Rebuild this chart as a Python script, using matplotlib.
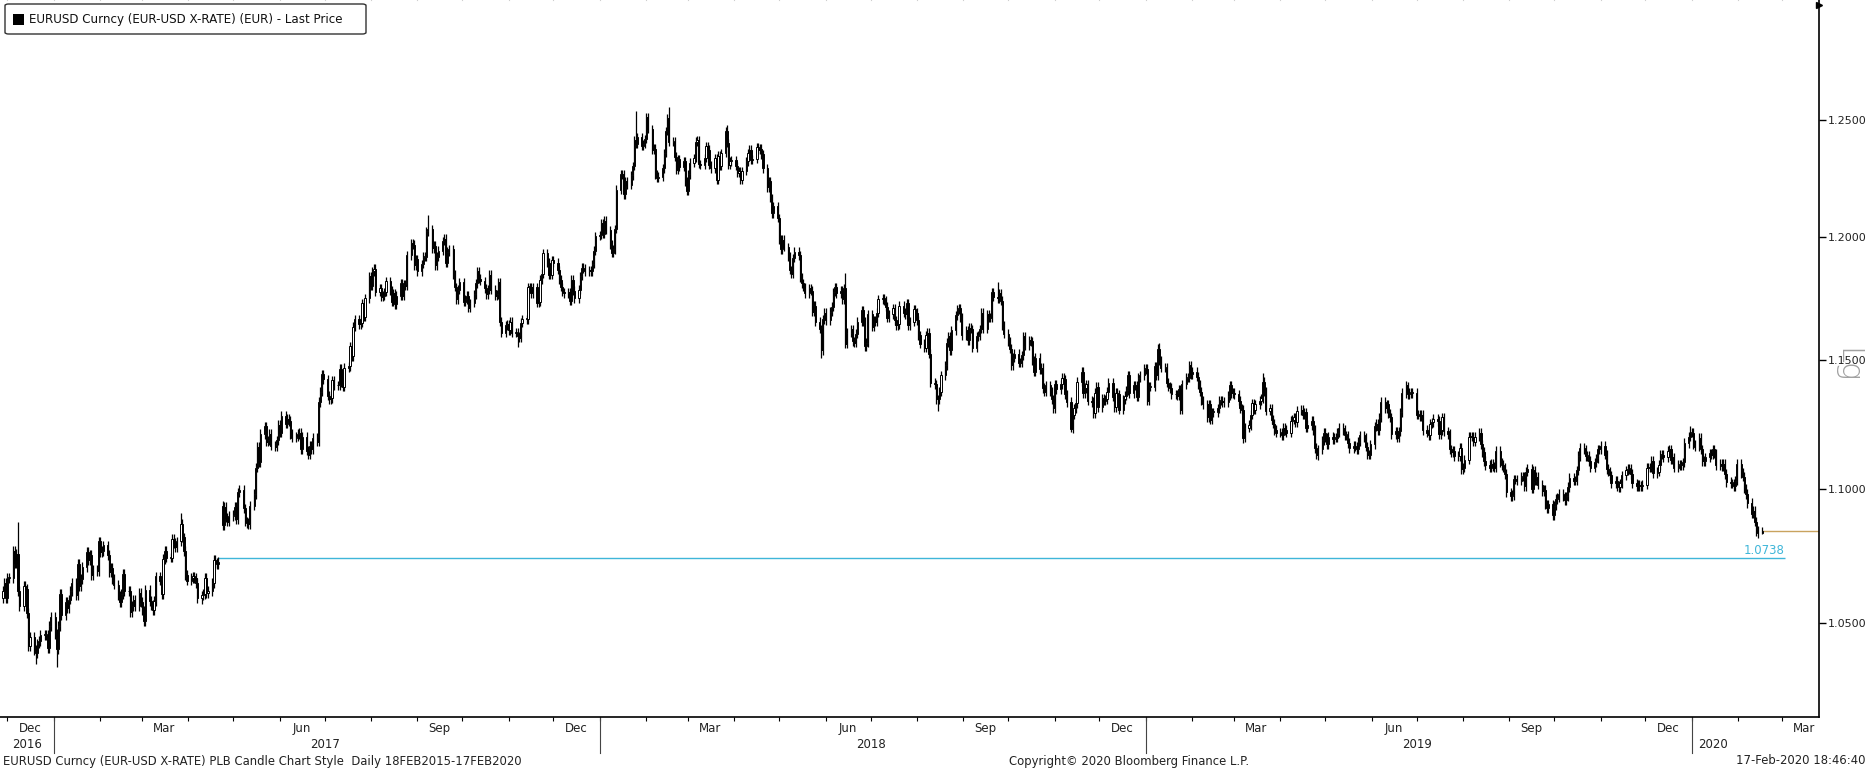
import numpy as np
import pandas as pd
import matplotlib
matplotlib.use("Agg")
import matplotlib.pyplot as plt
import matplotlib.dates as mdates
from matplotlib.patches import FancyBboxPatch
from matplotlib.ticker import FixedLocator, NullLocator

# daily closes (EURUSD, weekdays from 28-Nov-2016)
first_open = 1.0590
close_2016 = [
    1.0615, 1.0645, 1.0590,
    1.0665, 1.0665, 1.0765, 1.0720, 1.0755, 1.0615, 1.0560, 1.0635, 1.0625, 1.0535, 1.0415,
    1.0450, 1.0400, 1.0390, 1.0425, 1.0435, 1.0455, 1.0455, 1.0455, 1.0410, 1.0490, 1.0520,
]
close_2017 = [
    # jan
    1.0460, 1.0405, 1.0490, 1.0605, 1.0530, 1.0575, 1.0555, 1.0585, 1.0615, 1.0645, 1.0600,
    1.0715, 1.0635, 1.0660, 1.0705, 1.0760, 1.0730, 1.0750, 1.0675, 1.0695, 1.0690, 1.0800,
    # feb
    1.0760, 1.0765, 1.0785, 1.0750, 1.0685, 1.0700, 1.0660, 1.0640, 1.0600, 1.0575, 1.0605,
    1.0680, 1.0615, 1.0615, 1.0540, 1.0560, 1.0585, 1.0560, 1.0610, 1.0575,
    # mar
    1.0545, 1.0505, 1.0620, 1.0580, 1.0565, 1.0545, 1.0580, 1.0670, 1.0655, 1.0605, 1.0735,
    1.0765, 1.0740, 1.0740, 1.0810, 1.0795, 1.0780, 1.0800, 1.0865, 1.0815, 1.0765, 1.0675, 1.0655,
    # apr
    1.0665, 1.0670, 1.0665, 1.0645, 1.0590, 1.0600, 1.0605, 1.0665, 1.0610, 1.0615, 1.0645,
    1.0730, 1.0720, 1.0715, 1.0725, 1.0860, 1.0930, 1.0890, 1.0875, 1.0895,
    # may
    1.0900, 1.0930, 1.0885, 1.0985, 1.0995, 1.0925, 1.0875, 1.0870, 1.0865, 1.0935, 1.0980,
    1.1080, 1.1160, 1.1100, 1.1210, 1.1240, 1.1180, 1.1185, 1.1210, 1.1165, 1.1160, 1.1185, 1.1245,
    # jun
    1.1215, 1.1280, 1.1250, 1.1270, 1.1260, 1.1210, 1.1195, 1.1200, 1.1210, 1.1215, 1.1150,
    1.1200, 1.1145, 1.1130, 1.1165, 1.1150, 1.1195, 1.1180, 1.1335, 1.1375, 1.1445, 1.1425,
    # jul
    1.1360, 1.1345, 1.1350, 1.1420, 1.1400, 1.1400, 1.1465, 1.1410, 1.1395, 1.1470, 1.1475,
    1.1555, 1.1515, 1.1635, 1.1665, 1.1645, 1.1650, 1.1730, 1.1675, 1.1750, 1.1840,
    # aug
    1.1800, 1.1860, 1.1870, 1.1775, 1.1790, 1.1755, 1.1760, 1.1775, 1.1820, 1.1780, 1.1735,
    1.1770, 1.1725, 1.1760, 1.1810, 1.1760, 1.1805, 1.1800, 1.1925, 1.1975, 1.1970, 1.1885, 1.1910,
    # sep
    1.1860, 1.1890, 1.1920, 1.1920, 1.2025, 1.2035, 1.1955, 1.1965, 1.1885, 1.1920, 1.1945,
    1.1985, 1.1995, 1.1895, 1.1940, 1.1950, 1.1845, 1.1795, 1.1745, 1.1785, 1.1815,
    # oct
    1.1735, 1.1745, 1.1760, 1.1710, 1.1730, 1.1765, 1.1810, 1.1860, 1.1830, 1.1820, 1.1790,
    1.1765, 1.1785, 1.1845, 1.1785, 1.1760, 1.1765, 1.1815, 1.1655, 1.1610, 1.1640, 1.1645,
    # nov
    1.1620, 1.1655, 1.1610, 1.1610, 1.1595, 1.1590, 1.1650, 1.1665, 1.1665, 1.1795, 1.1795,
    1.1770, 1.1795, 1.1730, 1.1735, 1.1825, 1.1850, 1.1935, 1.1895, 1.1845, 1.1845, 1.1905,
    # dec
    1.1895, 1.1865, 1.1825, 1.1795, 1.1775, 1.1770, 1.1775, 1.1740, 1.1825, 1.1780, 1.1750,
    1.1785, 1.1840, 1.1875, 1.1870, 1.1860, 1.1865, 1.1860, 1.1890, 1.1945, 1.2005,
]
close_2018 = [
    # jan
    1.2010, 1.2060, 1.2015, 1.2070, 1.2030, 1.1970, 1.1935, 1.1950, 1.2035, 1.2200, 1.2265,
    1.2265, 1.2180, 1.2235, 1.2220, 1.2260, 1.2300, 1.2410, 1.2395, 1.2425, 1.2385, 1.2395, 1.2415,
    # feb
    1.2510, 1.2460, 1.2370, 1.2375, 1.2265, 1.2250, 1.2255, 1.2290, 1.2355, 1.2450, 1.2505,
    1.2405, 1.2405, 1.2340, 1.2285, 1.2330, 1.2295, 1.2320, 1.2235, 1.2195,
    # mar
    1.2265, 1.2315, 1.2335, 1.2405, 1.2410, 1.2310, 1.2305, 1.2335, 1.2385, 1.2370, 1.2305,
    1.2290, 1.2335, 1.2240, 1.2345, 1.2300, 1.2355, 1.2450, 1.2400, 1.2305, 1.2320, 1.2325,
    # apr
    1.2300, 1.2270, 1.2280, 1.2240, 1.2280, 1.2320, 1.2355, 1.2370, 1.2325, 1.2330, 1.2380,
    1.2370, 1.2375, 1.2350, 1.2290, 1.2210, 1.2235, 1.2165, 1.2100, 1.2130, 1.2080,
    # may
    1.1990, 1.1950, 1.1990, 1.1960, 1.1920, 1.1865, 1.1850, 1.1915, 1.1940, 1.1925, 1.1835,
    1.1810, 1.1795, 1.1770, 1.1790, 1.1780, 1.1695, 1.1720, 1.1655, 1.1625, 1.1540, 1.1665, 1.1690,
    # jun
    1.1660, 1.1695, 1.1715, 1.1775, 1.1795, 1.1770, 1.1780, 1.1745, 1.1790, 1.1565, 1.1610,
    1.1625, 1.1575, 1.1570, 1.1605, 1.1655, 1.1700, 1.1655, 1.1555, 1.1570, 1.1685,
    # jul
    1.1635, 1.1660, 1.1655, 1.1690, 1.1745, 1.1750, 1.1740, 1.1715, 1.1670, 1.1685, 1.1710,
    1.1660, 1.1640, 1.1645, 1.1720, 1.1690, 1.1685, 1.1730, 1.1640, 1.1655, 1.1705, 1.1690,
    # aug
    1.1660, 1.1600, 1.1565, 1.1550, 1.1600, 1.1610, 1.1525, 1.1410, 1.1405, 1.1345, 1.1345,
    1.1375, 1.1440, 1.1480, 1.1570, 1.1595, 1.1540, 1.1620, 1.1680, 1.1705, 1.1710, 1.1670, 1.1600,
    # sep
    1.1620, 1.1580, 1.1630, 1.1625, 1.1550, 1.1595, 1.1600, 1.1625, 1.1690, 1.1625, 1.1685,
    1.1670, 1.1670, 1.1775, 1.1755, 1.1750, 1.1770, 1.1740, 1.1640, 1.1605,
    # oct
    1.1575, 1.1545, 1.1480, 1.1510, 1.1525, 1.1490, 1.1490, 1.1520, 1.1595, 1.1560, 1.1580,
    1.1575, 1.1500, 1.1455, 1.1510, 1.1465, 1.1470, 1.1390, 1.1375, 1.1400, 1.1375, 1.1345, 1.1310,
    # nov
    1.1405, 1.1385, 1.1405, 1.1430, 1.1425, 1.1365, 1.1335, 1.1230, 1.1285, 1.1310, 1.1330,
    1.1415, 1.1455, 1.1370, 1.1390, 1.1405, 1.1340, 1.1335, 1.1290, 1.1370, 1.1395, 1.1315,
    # dec
    1.1350, 1.1340, 1.1345, 1.1375, 1.1410, 1.1355, 1.1315, 1.1370, 1.1365, 1.1305, 1.1345,
    1.1360, 1.1380, 1.1440, 1.1370, 1.1400, 1.1400, 1.1355, 1.1430, 1.1440, 1.1465,
]
close_2019 = [
    # jan
    1.1465, 1.1340, 1.1395, 1.1395, 1.1475, 1.1440, 1.1545, 1.1500, 1.1470, 1.1470, 1.1410,
    1.1395, 1.1390, 1.1365, 1.1365, 1.1360, 1.1385, 1.1305, 1.1405, 1.1430, 1.1430, 1.1480, 1.1445,
    # feb
    1.1455, 1.1435, 1.1405, 1.1375, 1.1340, 1.1325, 1.1275, 1.1325, 1.1265, 1.1295, 1.1295,
    1.1310, 1.1340, 1.1340, 1.1335, 1.1335, 1.1360, 1.1400, 1.1370, 1.1370,
    # mar
    1.1365, 1.1340, 1.1310, 1.1305, 1.1195, 1.1235, 1.1245, 1.1285, 1.1330, 1.1305, 1.1325,
    1.1340, 1.1350, 1.1415, 1.1375, 1.1300, 1.1310, 1.1265, 1.1250, 1.1225, 1.1215,
    # apr
    1.1215, 1.1205, 1.1235, 1.1225, 1.1215, 1.1260, 1.1265, 1.1275, 1.1255, 1.1300, 1.1305,
    1.1285, 1.1295, 1.1235, 1.1245, 1.1260, 1.1225, 1.1155, 1.1130, 1.1150, 1.1185, 1.1215,
    # may
    1.1195, 1.1170, 1.1200, 1.1190, 1.1195, 1.1195, 1.1215, 1.1235, 1.1225, 1.1205, 1.1205,
    1.1175, 1.1155, 1.1165, 1.1160, 1.1150, 1.1180, 1.1205, 1.1195, 1.1160, 1.1130, 1.1130, 1.1170,
    # jun
    1.1240, 1.1250, 1.1225, 1.1275, 1.1335, 1.1310, 1.1325, 1.1290, 1.1275, 1.1210, 1.1220,
    1.1195, 1.1220, 1.1295, 1.1370, 1.1400, 1.1365, 1.1370, 1.1370, 1.1370,
    # jul
    1.1285, 1.1285, 1.1280, 1.1285, 1.1225, 1.1215, 1.1205, 1.1250, 1.1255, 1.1270, 1.1260,
    1.1210, 1.1225, 1.1275, 1.1220, 1.1210, 1.1150, 1.1140, 1.1145, 1.1125, 1.1125, 1.1155, 1.1075,
    # aug
    1.1080, 1.1110, 1.1200, 1.1200, 1.1200, 1.1180, 1.1200, 1.1215, 1.1170, 1.1140, 1.1105,
    1.1090, 1.1080, 1.1095, 1.1085, 1.1080, 1.1145, 1.1100, 1.1090, 1.1080, 1.1055, 1.0985,
    # sep
    1.0970, 1.0975, 1.1035, 1.1035, 1.1030, 1.1045, 1.1045, 1.1010, 1.1065, 1.1075, 1.1000,
    1.1070, 1.1030, 1.1045, 1.1015, 1.0990, 1.0995, 1.0940, 1.0925, 1.0940, 1.0900,
    # oct
    1.0935, 1.0960, 1.0965, 1.0980, 1.0970, 1.0955, 1.0970, 1.1005, 1.1040, 1.1030, 1.1030,
    1.1070, 1.1125, 1.1155, 1.1150, 1.1125, 1.1125, 1.1105, 1.1080, 1.1100, 1.1115, 1.1150, 1.1150,
    # nov
    1.1165, 1.1130, 1.1075, 1.1065, 1.1050, 1.1020, 1.1030, 1.1010, 1.1005, 1.1020, 1.1050,
    1.1070, 1.1075, 1.1075, 1.1055, 1.1020, 1.1010, 1.1015, 1.1010, 1.1010, 1.1015,
    # dec
    1.1080, 1.1080, 1.1080, 1.1105, 1.1060, 1.1065, 1.1090, 1.1130, 1.1130, 1.1120, 1.1145,
    1.1150, 1.1110, 1.1120, 1.1080, 1.1090, 1.1090, 1.1090, 1.1100, 1.1175, 1.1200, 1.1215,
]
close_2020 = [
    # jan
    1.1215, 1.1170, 1.1160, 1.1195, 1.1150, 1.1105, 1.1105, 1.1120, 1.1135, 1.1130, 1.1150,
    1.1135, 1.1090, 1.1095, 1.1085, 1.1095, 1.1055, 1.1025, 1.1020, 1.1020, 1.1010, 1.1030, 1.1095,
    # feb
    1.1060, 1.1045, 1.1000, 1.0980, 1.0945, 1.0905, 1.0915, 1.0875, 1.0840, 1.0830, 1.0838,
]

# gap opens and the notable wick extremes visible on the chart
gap_dates = ["2017-04-24"]
gap_opens = [1.0935]
high_dates = ["2016-12-08", "2017-03-27", "2017-09-08", "2018-01-25", "2018-02-16", "2018-03-27",
              "2018-06-14", "2018-09-24", "2019-01-10", "2019-03-20", "2019-06-25", "2019-12-31"]
high_vals = [1.0874, 1.0906, 1.2092, 1.2537, 1.2555, 1.2476,
             1.1852, 1.1815, 1.1570, 1.1448, 1.1412, 1.1239]
low_dates = ["2016-12-20", "2017-01-03", "2017-04-10", "2017-11-07", "2018-05-29", "2018-08-15",
             "2018-11-12", "2019-03-07", "2019-04-26", "2019-10-01", "2020-02-17"]
low_vals = [1.0352, 1.0340, 1.0569, 1.1554, 1.1510, 1.1301,
            1.1216, 1.1176, 1.1110, 1.0879, 1.0827]

gap_level = 1.0738
last_price = 1.0838
y_ticks = [1.05, 1.10, 1.15, 1.20, 1.25]

WICK = 0.0018

closes = np.array(close_2016 + close_2017 + close_2018 + close_2019 + close_2020)
dates = pd.bdate_range("2016-11-28", periods=len(closes))
opens = np.concatenate([[first_open], closes[:-1]])
s_open = pd.Series(opens, index=dates)
for d, v in zip(gap_dates, gap_opens):
    s_open[pd.Timestamp(d)] = v
opens = s_open.values
highs = pd.Series(np.maximum(opens, closes) + WICK, index=dates)
lows = pd.Series(np.minimum(opens, closes) - WICK, index=dates)
for d, v in zip(high_dates, high_vals):
    highs[pd.Timestamp(d)] = v
for d, v in zip(low_dates, low_vals):
    lows[pd.Timestamp(d)] = v

x = mdates.date2num(dates)
up = closes >= opens

fig = plt.figure(figsize=(18.7, 7.7), dpi=100)
ax = fig.add_axes([0, 53 / 770, 1819 / 1870, 717 / 770])

ax.vlines(x, lows.values, highs.values, color="black", lw=0.9, zorder=2)
body_lo = np.minimum(opens, closes)
body_h = np.maximum(np.abs(closes - opens), 0.0003)
ax.bar(x[up], body_h[up], bottom=body_lo[up], width=0.8, facecolor="white",
       edgecolor="black", linewidth=0.7, zorder=3)
ax.bar(x[~up], body_h[~up], bottom=body_lo[~up], width=0.8, facecolor="black",
       edgecolor="black", linewidth=0.7, zorder=3)

ax.set_yscale("log")
ax.set_ylim(1.01629, 1.30284)
x0 = mdates.date2num(pd.Timestamp("2016-11-26"))
x1 = mdates.date2num(pd.Timestamp("2020-03-26"))
ax.set_xlim(x0, x1)

# gap marker and last price line
ax.hlines(gap_level, mdates.date2num(pd.Timestamp("2017-04-21")),
          mdates.date2num(pd.Timestamp("2020-03-03")), color="#3fb6d9", lw=1.0, zorder=1)
ax.text(mdates.date2num(pd.Timestamp("2020-03-03")), gap_level * 1.0004, "1.0738",
        color="#3fb6d9", fontsize=8.5, ha="right", va="bottom")
ax.hlines(last_price, x[-1], x1, color="#c9a35f", lw=1.0, zorder=1)

# right price axis
ax.yaxis.tick_right()
ax.yaxis.set_major_locator(FixedLocator(y_ticks))
ax.yaxis.set_minor_locator(NullLocator())
ax.set_yticklabels(["%.4f" % v for v in y_ticks])
ax.tick_params(axis="y", direction="out", length=5, width=1, colors="black",
               labelsize=8, labelcolor="#222222", pad=1)
for sp in ["top", "left"]:
    ax.spines[sp].set_visible(False)
ax.spines["right"].set_linewidth(1.2)
ax.spines["bottom"].set_linewidth(1.2)
ax.plot([1.0], [0.993], marker=">", color="black", markersize=5,
        transform=ax.transAxes, clip_on=False)
ax.text(1.0152, 0.49, "Lg", transform=ax.transAxes, rotation=-90, fontsize=22,
        color="#a0a0a0", ha="center", va="center", fontweight="light")

# date axis: month ticks, month and year labels
month_starts = pd.date_range("2016-12-01", "2020-03-01", freq="MS")
ax.set_xticks(mdates.date2num(month_starts))
ax.set_xticklabels([])
ax.tick_params(axis="x", direction="out", length=3, width=0.8, colors="black")
for m in month_starts:
    ax.plot([mdates.date2num(m)] * 2, [1.0, 1.012], transform=ax.get_xaxis_transform(),
            color="#cfcfcf", lw=0.8, clip_on=False)

month_names = {12: "Dec", 3: "Mar", 6: "Jun", 9: "Sep"}
for m in month_starts:
    if m.month in month_names:
        mid = mdates.date2num(m + pd.Timedelta(days=15))
        ax.text(mid, -0.0155, month_names[m.month], transform=ax.get_xaxis_transform(),
                fontsize=8.5, color="#222222", ha="center", va="center")

year_labels = ["2016", "2017", "2018", "2019", "2020"]
year_pos = ["2016-12-14", "2017-07-01", "2018-07-01", "2019-07-01", "2020-01-15"]
for lab, d in zip(year_labels, year_pos):
    ax.text(mdates.date2num(pd.Timestamp(d)), -0.038, lab, transform=ax.get_xaxis_transform(),
            fontsize=8.5, color="#222222", ha="center", va="center")
for yr in [2017, 2018, 2019, 2020]:
    xs = mdates.date2num(pd.Timestamp("%d-01-01" % yr))
    ax.plot([xs, xs], [0, -0.05], transform=ax.get_xaxis_transform(),
            color="#444444", lw=0.8, clip_on=False)

# legend box
box = FancyBboxPatch((5 / 1870, 1 - 34 / 770), 361 / 1870, 30 / 770,
                     boxstyle="round,pad=0,rounding_size=0.002", transform=fig.transFigure,
                     facecolor="white", edgecolor="#333333", linewidth=1.0, zorder=10)
fig.patches.append(box)
fig.patches.append(plt.Rectangle((13 / 1870, 1 - 25 / 770), 11 / 1870, 11 / 770,
                                 transform=fig.transFigure, facecolor="black", zorder=11))
fig.text(29 / 1870, 1 - 19.5 / 770, "EURUSD Curncy (EUR-USD X-RATE) (EUR) - Last Price",
         fontsize=8.6, color="#111111", ha="left", va="center", zorder=12)

# footer
fig.text(3 / 1870, 9 / 770, "EURUSD Curncy (EUR-USD X-RATE) PLB Candle Chart Style  Daily 18FEB2015-17FEB2020",
         fontsize=8.4, color="#222222", ha="left", va="center")
fig.text(1129 / 1870, 9 / 770, "Copyright\u00a9 2020 Bloomberg Finance L.P.",
         fontsize=8.4, color="#222222", ha="center", va="center")
fig.text(1866 / 1870, 9 / 770, "17-Feb-2020 18:46:40",
         fontsize=8.4, color="#222222", ha="right", va="center")

fig.savefig("out.png", dpi=100, facecolor="white")
